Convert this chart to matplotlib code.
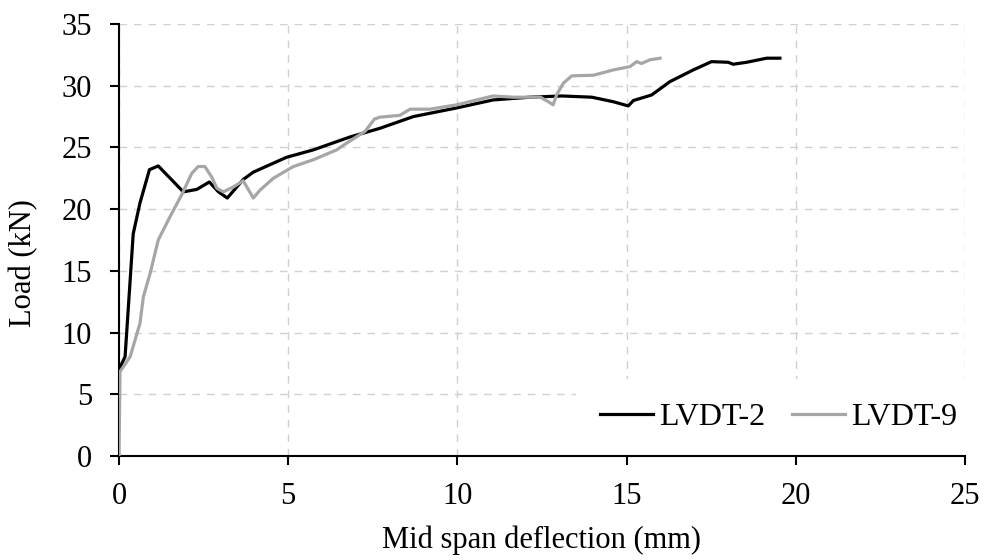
import matplotlib
matplotlib.use("Agg")
import matplotlib.pyplot as plt

plt.rcParams['font.family'] = ['Liberation Serif', 'DejaVu Serif']

# LVDT-2 (black)
lvdt2_x = [0.0, 0.18, 0.42, 0.62, 0.9, 1.16, 1.9, 2.3, 2.67, 2.94, 3.2, 3.67, 3.97, 4.95,
           5.74, 6.83, 7.71, 8.70, 9.98, 11.06, 12.15, 13.08, 13.97, 14.61, 15.05, 15.2,
           15.74, 16.28, 16.97, 17.51, 18.0, 18.15, 18.55, 19.14, 19.53]
lvdt2_y = [7.0, 8.05, 18.0, 20.5, 23.2, 23.5, 21.4, 21.6, 22.2, 21.4, 20.9, 22.4, 23.0, 24.2,
           24.8, 25.85, 26.55, 27.5, 28.2, 28.85, 29.07, 29.17, 29.07, 28.7, 28.36, 28.8,
           29.25, 30.33, 31.28, 31.95, 31.9, 31.74, 31.9, 32.23, 32.23]

# LVDT-9 (grey)
lvdt9_x = [0.0, 0.03, 0.33, 0.62, 0.72, 0.92, 1.16, 1.51, 1.85, 2.15, 2.34, 2.54, 2.74, 2.89,
           3.08, 3.38, 3.67, 3.97, 4.17, 4.56, 5.15, 5.74, 6.43, 6.7, 7.27, 7.55, 7.71, 8.3,
           8.6, 9.19, 9.98, 10.57, 11.06, 11.65, 12.45, 12.69, 12.83, 12.93, 13.13, 13.38,
           14.02, 14.61, 15.1, 15.3, 15.44, 15.69, 15.99]
lvdt9_y = [0.0, 6.83, 8.05, 10.75, 12.9, 14.8, 17.5, 19.4, 21.15, 22.9, 23.45, 23.45, 22.6, 21.7,
           21.4, 21.8, 22.3, 20.9, 21.55, 22.5, 23.45, 24.0, 24.8, 25.3, 26.3, 27.3, 27.45, 27.6,
           28.1, 28.1, 28.45, 28.85, 29.17, 29.07, 29.07, 28.7, 28.45, 29.25, 30.2, 30.8,
           30.85, 31.28, 31.55, 31.95, 31.8, 32.1, 32.23]

x_ticks = [0, 5, 10, 15, 20, 25]
y_ticks = [0, 5, 10, 15, 20, 25, 30, 35]

fig = plt.figure(figsize=(9.87, 5.6), dpi=100)
ax = fig.add_axes([119/987, 104/560, (965-119)/987, (456-24)/560])

ax.plot(lvdt2_x, lvdt2_y, color='black', lw=2.3, label='LVDT-2', zorder=3)
ax.plot(lvdt9_x, lvdt9_y, color='#a6a6a6', lw=2.3, label='LVDT-9', zorder=3)

ax.set_xlim(0, 25)
ax.set_ylim(0, 35)
ax.set_xticks(x_ticks)
ax.set_yticks(y_ticks)
ax.grid(True, color='#d0d0d0', linestyle=(0, (5.5, 5)), linewidth=1.0, zorder=0)
ax.set_axisbelow(True)

for s in ['top', 'right']:
    ax.spines[s].set_visible(False)
for s in ['left', 'bottom']:
    ax.spines[s].set_linewidth(1.5)
    ax.spines[s].set_color('black')

ax.tick_params(axis='both', direction='out', length=6.5, width=1.5, labelsize=22)
ax.tick_params(axis='y', pad=13)
ax.tick_params(axis='x', pad=12)

ax.set_xlabel('Mid span deflection (mm)', fontsize=22)
ax.set_ylabel('Load (kN)', fontsize=22)
ax.xaxis.set_label_coords(0.5, -0.160)
ax.yaxis.set_label_coords(-0.095, 0.447)

leg = ax.legend(loc='lower left', bbox_to_anchor=((576-119)/846, 0.0), ncol=2, fontsize=23,
                frameon=True, facecolor='white', edgecolor='none', framealpha=1,
                borderpad=0.75, handlelength=1.66, handletextpad=0.18, columnspacing=0.85,
                borderaxespad=0)
leg.get_frame().set_boxstyle('square', pad=0)
leg.set_zorder(2)

fig.savefig('out.png', dpi=100)
